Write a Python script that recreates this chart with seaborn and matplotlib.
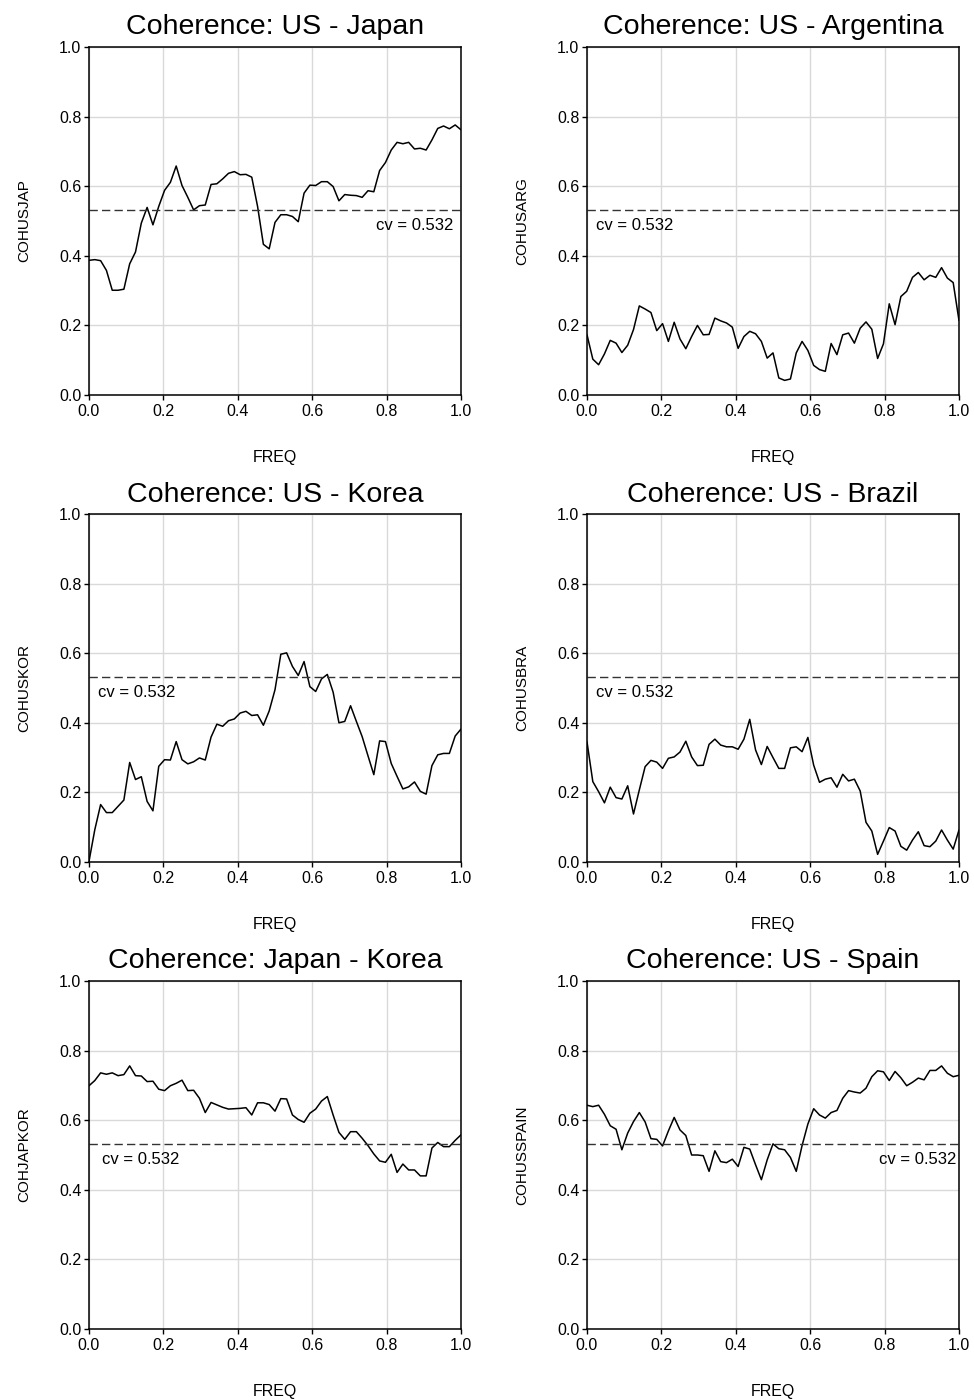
import numpy as np
import pandas as pd
import matplotlib
matplotlib.use("Agg")
import matplotlib.pyplot as plt
import seaborn as sns

# frequency grid (65 points from 0 to 1)
freq = np.arange(65) / 64

cv = 0.532

coh_us_jap = [0.387, 0.389, 0.386, 0.358, 0.301, 0.301, 0.304, 0.377, 0.411, 0.494,
              0.539, 0.489, 0.542, 0.588, 0.611, 0.658, 0.602, 0.568, 0.532, 0.544,
              0.546, 0.605, 0.607, 0.621, 0.637, 0.642, 0.633, 0.634, 0.626, 0.542,
              0.433, 0.420, 0.496, 0.518, 0.518, 0.513, 0.498, 0.580, 0.603, 0.602,
              0.613, 0.613, 0.599, 0.558, 0.576, 0.574, 0.573, 0.568, 0.587, 0.584,
              0.645, 0.668, 0.704, 0.726, 0.722, 0.726, 0.707, 0.709, 0.704, 0.733,
              0.766, 0.773, 0.765, 0.776, 0.762]

coh_us_arg = [0.173, 0.103, 0.087, 0.118, 0.157, 0.149, 0.122, 0.143, 0.188, 0.256,
              0.247, 0.237, 0.185, 0.205, 0.154, 0.209, 0.161, 0.133, 0.168, 0.200,
              0.173, 0.174, 0.221, 0.213, 0.207, 0.195, 0.134, 0.168, 0.183, 0.176,
              0.154, 0.106, 0.121, 0.049, 0.042, 0.046, 0.121, 0.154, 0.128, 0.085,
              0.073, 0.068, 0.148, 0.116, 0.173, 0.178, 0.149, 0.192, 0.210, 0.189,
              0.105, 0.147, 0.262, 0.202, 0.283, 0.298, 0.338, 0.352, 0.331, 0.344,
              0.338, 0.366, 0.336, 0.323, 0.214]

coh_us_kor = [0.002, 0.093, 0.165, 0.142, 0.142, 0.160, 0.178, 0.286, 0.237, 0.245,
              0.174, 0.147, 0.275, 0.294, 0.293, 0.346, 0.294, 0.282, 0.288, 0.299,
              0.293, 0.359, 0.396, 0.390, 0.406, 0.411, 0.428, 0.433, 0.421, 0.423,
              0.393, 0.434, 0.495, 0.597, 0.601, 0.562, 0.536, 0.576, 0.504, 0.490,
              0.526, 0.539, 0.488, 0.400, 0.404, 0.449, 0.404, 0.360, 0.305, 0.251,
              0.348, 0.346, 0.283, 0.246, 0.210, 0.216, 0.230, 0.203, 0.195, 0.277,
              0.308, 0.312, 0.312, 0.362, 0.382]

coh_us_bra = [0.345, 0.231, 0.202, 0.170, 0.215, 0.185, 0.181, 0.219, 0.138, 0.207,
              0.274, 0.292, 0.287, 0.269, 0.298, 0.302, 0.316, 0.347, 0.302, 0.277,
              0.278, 0.338, 0.353, 0.336, 0.331, 0.331, 0.324, 0.353, 0.410, 0.322,
              0.280, 0.332, 0.300, 0.269, 0.269, 0.328, 0.331, 0.317, 0.358, 0.278,
              0.229, 0.238, 0.242, 0.215, 0.252, 0.233, 0.238, 0.204, 0.114, 0.089,
              0.022, 0.060, 0.099, 0.089, 0.045, 0.034, 0.063, 0.087, 0.047, 0.044,
              0.060, 0.092, 0.063, 0.037, 0.092]

coh_jap_kor = [0.699, 0.714, 0.736, 0.732, 0.736, 0.728, 0.731, 0.756, 0.728, 0.727,
               0.711, 0.712, 0.689, 0.685, 0.699, 0.706, 0.715, 0.685, 0.686, 0.663,
               0.622, 0.651, 0.644, 0.637, 0.632, 0.633, 0.634, 0.636, 0.615, 0.650,
               0.650, 0.645, 0.626, 0.662, 0.661, 0.615, 0.602, 0.594, 0.620, 0.632,
               0.655, 0.668, 0.615, 0.565, 0.545, 0.567, 0.567, 0.548, 0.527, 0.503,
               0.483, 0.479, 0.502, 0.450, 0.474, 0.457, 0.457, 0.440, 0.440, 0.520,
               0.536, 0.524, 0.524, 0.542, 0.558]

coh_us_spain = [0.643, 0.639, 0.643, 0.617, 0.584, 0.574, 0.515, 0.563, 0.596, 0.622,
                0.595, 0.547, 0.545, 0.526, 0.569, 0.608, 0.572, 0.556, 0.500, 0.500,
                0.498, 0.453, 0.512, 0.481, 0.478, 0.488, 0.467, 0.522, 0.517, 0.472,
                0.429, 0.486, 0.532, 0.518, 0.515, 0.493, 0.453, 0.527, 0.589, 0.633,
                0.615, 0.606, 0.622, 0.628, 0.663, 0.685, 0.681, 0.678, 0.692, 0.725,
                0.742, 0.739, 0.714, 0.740, 0.722, 0.699, 0.709, 0.721, 0.716, 0.743,
                0.743, 0.756, 0.735, 0.725, 0.729]

titles = ["Coherence: US - Japan", "Coherence: US - Argentina",
          "Coherence: US - Korea", "Coherence: US - Brazil",
          "Coherence: Japan - Korea", "Coherence: US - Spain"]
ylabels = ["COHUSJAP", "COHUSARG", "COHUSKOR", "COHUSBRA", "COHJAPKOR", "COHUSSPAIN"]
series = [coh_us_jap, coh_us_arg, coh_us_kor, coh_us_bra, coh_jap_kor, coh_us_spain]

# where the "cv = 0.532" note sits in each panel (axes x, alignment)
cv_pos = [(0.98, "right"), (0.024, "left"), (0.023, "left"),
          (0.023, "left"), (0.034, "left"), (0.994, "right")]

sns.set_style("whitegrid")
plt.rcParams["font.family"] = ["Liberation Sans", "DejaVu Sans"]
plt.rcParams["text.color"] = "black"
plt.rcParams["axes.labelcolor"] = "black"
plt.rcParams["xtick.color"] = "black"
plt.rcParams["ytick.color"] = "black"

fig = plt.figure(figsize=(9.74, 14.0), dpi=100)

col_left = [89 / 974, 587 / 974]
row_bottom = [1 - 395 / 1400, 1 - 862 / 1400, 1 - 1329 / 1400]
ax_w = 372 / 974
ax_h = 348 / 1400

for i, (title, ylab, vals) in enumerate(zip(titles, ylabels, series)):
    r, c = divmod(i, 2)
    ax = fig.add_axes([col_left[c], row_bottom[r], ax_w, ax_h])
    df = pd.DataFrame({"FREQ": freq, ylab: vals})
    sns.lineplot(data=df, x="FREQ", y=ylab, ax=ax, color="black", linewidth=1.1)
    ax.axhline(cv, color="#333333", linewidth=1.0, linestyle=(0, (6, 3)))

    tx, ha = cv_pos[i]
    ax.text(tx, 0.488, "cv = 0.532", transform=ax.transAxes,
            ha=ha, va="center", fontsize=12, color="black")

    ax.set_xlim(0, 1)
    ax.set_ylim(0, 1)
    ax.set_xticks([0, 0.2, 0.4, 0.6, 0.8, 1.0])
    ax.set_yticks([0, 0.2, 0.4, 0.6, 0.8, 1.0])
    ax.xaxis.set_major_formatter(matplotlib.ticker.FormatStrFormatter("%.1f"))
    ax.yaxis.set_major_formatter(matplotlib.ticker.FormatStrFormatter("%.1f"))
    ax.tick_params(axis="both", which="both", direction="out", length=3.5, width=1,
                   color="black", labelcolor="black", labelsize=11.5, pad=2,
                   bottom=True, left=True, top=False, right=False)
    ax.tick_params(axis="x", pad=3)
    ax.grid(True, color="#d9d9d9", linewidth=1.0)
    for sp in ax.spines.values():
        sp.set_color("black")
        sp.set_linewidth(1.1)

    ax.set_title(title, fontsize=20.5, pad=9, color="black")
    ax.set_xlabel("FREQ", fontsize=11.5, labelpad=22, color="black")
    ax.set_ylabel(ylab, fontsize=11, labelpad=20, color="black")

fig.savefig("out.png", dpi=100, facecolor="white")
